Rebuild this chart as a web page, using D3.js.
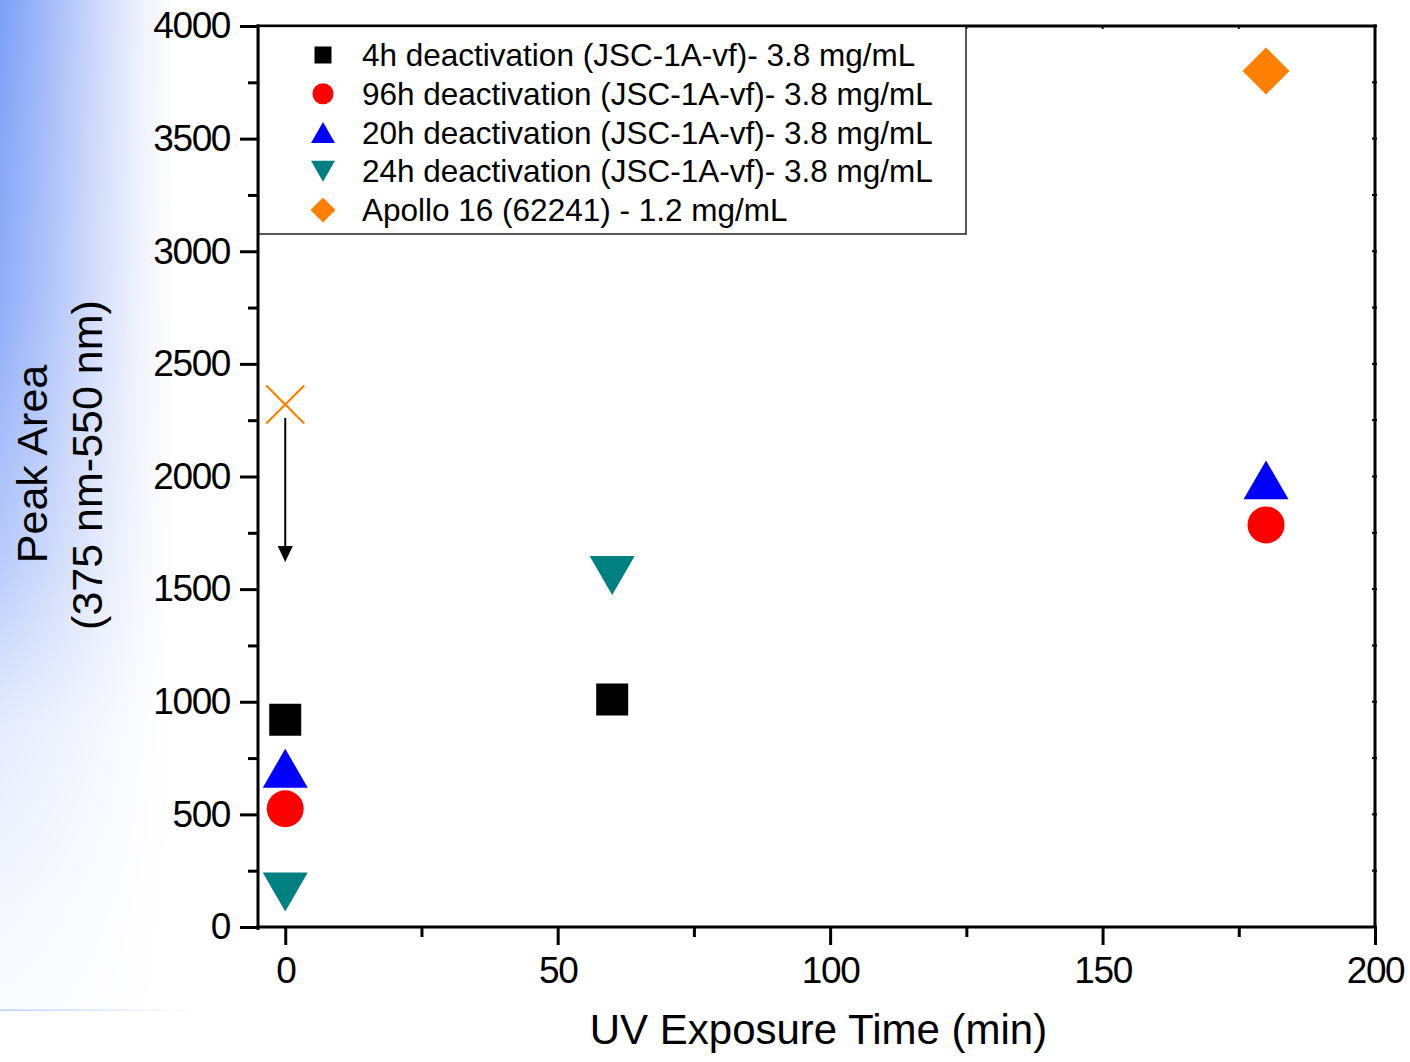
<!DOCTYPE html>
<html>
<head>
<meta charset="utf-8">
<script src="https://cdn.jsdelivr.net/npm/d3@7/dist/d3.min.js"></script>
<style>
  html, body { margin: 0; padding: 0; background: #fff; }
  svg { display: block; }
  text { font-family: "Liberation Sans", Arial, sans-serif; fill: #000; }
</style>
</head>
<body>
<svg id="chart" width="1410" height="1062"></svg>
<script>
// ---- data ----
const xTickValues = [0, 50, 100, 150, 200];
const xMinorValues = [25, 75, 125, 175];
const yTickValues = [0, 500, 1000, 1500, 2000, 2500, 3000, 3500, 4000];
const yMinorValues = [250, 750, 1250, 1750, 2250, 2750, 3250, 3750];

const seriesNames = [
  "4h deactivation (JSC-1A-vf)- 3.8 mg/mL",
  "96h deactivation (JSC-1A-vf)- 3.8 mg/mL",
  "20h deactivation (JSC-1A-vf)- 3.8 mg/mL",
  "24h deactivation (JSC-1A-vf)- 3.8 mg/mL",
  "Apollo 16 (62241) - 1.2 mg/mL"
];
const seriesShapes = ["square", "circle", "triangleUp", "triangleDown", "diamond"];
const seriesColors = ["#000000", "#ff0000", "#0000ff", "#008080", "#ff8000"];

const time4h = [0, 60];    const area4h = [920, 1010];
const time96h = [0, 180];  const area96h = [525, 1785];
const time20h = [0, 180];  const area20h = [705, 1985];
const time24h = [0, 60];   const area24h = [155, 1560];
const timeApollo = [180];  const areaApollo = [3800];

// open cross marker with a downward arrow beneath it
const crossTime = [0];     const crossArea = [2320];
const arrowFromArea = 2260; const arrowToArea = 1620;

const seriesTimes = [time4h, time96h, time20h, time24h, timeApollo];
const seriesAreas = [area4h, area96h, area20h, area24h, areaApollo];

// ---- layout ----
const svg = d3.select("#chart");
const W = 1410, H = 1062;
const plot = { left: 258, right: 1375, top: 26, bottom: 927 };

const x = d3.scaleLinear().domain([-5, 200]).range([plot.left, plot.right]);
const y = d3.scaleLinear().domain([0, 4000]).range([plot.bottom, plot.top]);

// ---- slide background: blue wash along the left edge ----
const defs = svg.append("defs");
const gH = defs.append("linearGradient").attr("id", "bgH")
  .attr("gradientUnits", "userSpaceOnUse")
  .attr("x1", 0).attr("y1", 0).attr("x2", 175).attr("y2", 0);
[[0, "#7d9ff8"], [0.25, "#9fb8f9"], [0.55, "#cdd8fb"], [0.8, "#eef1fe"], [1, "#ffffff"]]
  .forEach(([o, c]) => gH.append("stop").attr("offset", o).attr("stop-color", c));
const gV = defs.append("linearGradient").attr("id", "bgV")
  .attr("gradientUnits", "userSpaceOnUse")
  .attr("x1", 0).attr("y1", 0).attr("x2", 0).attr("y2", 1010);
[[0, 1], [0.3, 0.85], [0.55, 0.55], [0.72, 0.2], [0.9, 0.08], [1, 0.04]]
  .forEach(([o, a]) => gV.append("stop").attr("offset", o).attr("stop-color", "#fff").attr("stop-opacity", a));
defs.append("mask").attr("id", "bgMask")
  .append("rect").attr("x", 0).attr("y", 0).attr("width", 200).attr("height", 1010).attr("fill", "url(#bgV)");
svg.append("rect").attr("x", 0).attr("y", 0).attr("width", 200).attr("height", 1010)
  .attr("fill", "url(#bgH)").attr("mask", "url(#bgMask)");
const gLine = defs.append("linearGradient").attr("id", "bgLine")
  .attr("gradientUnits", "userSpaceOnUse")
  .attr("x1", 0).attr("y1", 0).attr("x2", 200).attr("y2", 0);
gLine.append("stop").attr("offset", 0).attr("stop-color", "#a9c6ff");
gLine.append("stop").attr("offset", 1).attr("stop-color", "#ffffff");
svg.append("rect").attr("x", 0).attr("y", 1009.5).attr("width", 200).attr("height", 1.2)
  .attr("fill", "url(#bgLine)");

// ---- marker shapes ----
function shapePath(type, s) {
  const h = s / 2;
  switch (type) {
    case "square":
      return `M${-h},${-h}H${h}V${h}H${-h}Z`;
    case "circle":
      return `M${h},0A${h},${h} 0 1,1 ${-h},0A${h},${h} 0 1,1 ${h},0Z`;
    case "triangleUp": {
      const th = s * 0.866 / 2;
      return `M0,${-th}L${h},${th}L${-h},${th}Z`;
    }
    case "triangleDown": {
      const th = s * 0.866 / 2;
      return `M0,${th}L${h},${-th}L${-h},${-th}Z`;
    }
    case "diamond":
      return `M0,${-h}L${h},0L0,${h}L${-h},0Z`;
  }
}
const markerSize = { square: 32, circle: 37, triangleUp: 45, triangleDown: 45, diamond: 47 };
const legendSize = { square: 17, circle: 21, triangleUp: 24, triangleDown: 24, diamond: 25 };

// ---- axes ----
const tickFont = "37px";
function styleAxis(g) {
  g.selectAll("path.domain").remove();
  g.selectAll(".tick line").attr("stroke", "#000").attr("stroke-width", 3);
  g.selectAll(".tick text").style("font-size", tickFont).style("letter-spacing", "-1.4px")
    .attr("fill", "#000").style("font-family", '"Liberation Sans", Arial, sans-serif');
}

svg.append("g").attr("transform", `translate(0,${plot.bottom})`)
  .call(d3.axisBottom(x).tickValues(xTickValues).tickSize(18).tickPadding(12).tickFormat(d3.format("d")))
  .call(styleAxis);
svg.append("g").attr("transform", `translate(0,${plot.bottom})`)
  .call(d3.axisBottom(x).tickValues(xMinorValues).tickSize(10).tickFormat(""))
  .call(styleAxis);
svg.append("g").attr("transform", `translate(${plot.left},0)`)
  .call(d3.axisLeft(y).tickValues(yTickValues).tickSize(18).tickPadding(10).tickFormat(d3.format("d")))
  .call(styleAxis);
svg.append("g").attr("transform", `translate(${plot.left},0)`)
  .call(d3.axisLeft(y).tickValues(yMinorValues).tickSize(10).tickFormat(""))
  .call(styleAxis);

// frame
const frame = svg.append("g").attr("stroke", "#000").attr("stroke-width", 3).attr("fill", "none");
frame.append("line").attr("x1", plot.left).attr("x2", plot.left).attr("y1", plot.top - 1.5).attr("y2", plot.bottom + 3);
frame.append("line").attr("x1", plot.left - 1.5).attr("x2", plot.right + 1.5).attr("y1", plot.bottom).attr("y2", plot.bottom);
frame.append("line").attr("x1", plot.right).attr("x2", plot.right).attr("y1", plot.top - 1.5).attr("y2", plot.bottom);
frame.append("line").attr("x1", plot.left - 1.5).attr("x2", plot.right + 1.5).attr("y1", plot.top).attr("y2", plot.top);
// small inner ticks on the top and right edges
const innerTicks = svg.append("g").attr("stroke", "#000").attr("stroke-width", 2);
xTickValues.concat(xMinorValues).forEach(v => {
  innerTicks.append("line").attr("x1", x(v)).attr("x2", x(v)).attr("y1", plot.top).attr("y2", plot.top + 3);
});
yTickValues.concat(yMinorValues).forEach(v => {
  innerTicks.append("line").attr("x1", plot.right - 3).attr("x2", plot.right + 2).attr("y1", y(v)).attr("y2", y(v));
});

// ---- axis titles ----
svg.append("text").attr("x", (plot.left + plot.right) / 2 + 2).attr("y", 1044)
  .attr("text-anchor", "middle").style("font-size", "42px")
  .text("UV Exposure Time (min)");
svg.append("text").attr("transform", "translate(47,464) rotate(-90)")
  .attr("text-anchor", "middle").style("font-size", "43px")
  .text("Peak Area");
svg.append("text").attr("transform", "translate(102,465) rotate(-90)")
  .attr("text-anchor", "middle").style("font-size", "43px")
  .text("(375 nm-550 nm)");

// ---- legend ----
const legend = svg.append("g");
legend.append("rect").attr("x", 259).attr("y", 26.5).attr("width", 707).attr("height", 207.5)
  .attr("fill", "#fff").attr("stroke", "#000").attr("stroke-width", 1.3);
const rowY = d3.scaleLinear().domain([0, 4]).range([55, 210]);
seriesNames.forEach((name, i) => {
  const cy = rowY(i);
  legend.append("path").attr("transform", `translate(323,${cy})`)
    .attr("d", shapePath(seriesShapes[i], legendSize[seriesShapes[i]]))
    .attr("fill", seriesColors[i]);
  legend.append("text").attr("x", 362).attr("y", cy + 11)
    .style("font-size", "31.5px").text(name);
});

// ---- data points ----
const pts = svg.append("g");
seriesNames.forEach((name, i) => {
  const data = seriesTimes[i].map((t, j) => ({ t, a: seriesAreas[i][j] }));
  pts.selectAll(null).data(data).enter().append("path")
    .attr("transform", d => `translate(${x(d.t)},${y(d.a)})`)
    .attr("d", shapePath(seriesShapes[i], markerSize[seriesShapes[i]]))
    .attr("fill", seriesColors[i]);
});

// cross marker
const crossHalf = 19;
crossTime.forEach((t, j) => {
  const cx = x(t), cy = y(crossArea[j]);
  pts.append("path")
    .attr("d", `M${cx - crossHalf},${cy - crossHalf}L${cx + crossHalf},${cy + crossHalf}M${cx - crossHalf},${cy + crossHalf}L${cx + crossHalf},${cy - crossHalf}`)
    .attr("stroke", "#ff8000").attr("stroke-width", 2.2).attr("fill", "none");
});

// arrow pointing down from the cross
const ax = x(crossTime[0]);
const ay1 = y(arrowFromArea), ay2 = y(arrowToArea);
const headH = 16, headW = 15;
pts.append("line").attr("x1", ax).attr("x2", ax).attr("y1", ay1).attr("y2", ay2 - headH + 2)
  .attr("stroke", "#000").attr("stroke-width", 2);
pts.append("path")
  .attr("d", `M${ax},${ay2}L${ax - headW / 2},${ay2 - headH}L${ax + headW / 2},${ay2 - headH}Z`)
  .attr("fill", "#000");
</script>
</body>
</html>
